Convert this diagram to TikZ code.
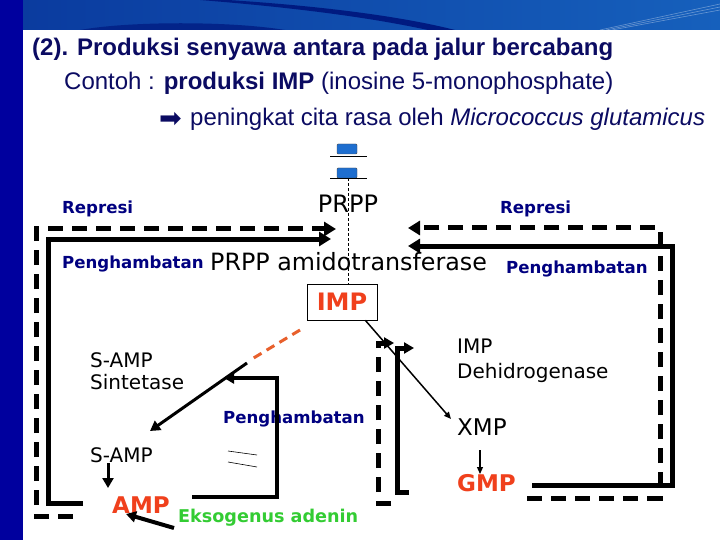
\documentclass[tikz,border=0pt]{standalone}
\usepackage{fontspec}
\setmainfont{Liberation Sans}
\newfontfamily\dv{DejaVu Sans}
\usetikzlibrary{arrows.meta}
\definecolor{bannerL}{HTML}{0A3A9E}
\definecolor{bannerR}{HTML}{1660BC}
\definecolor{swoosh}{HTML}{001A80}
\definecolor{stripcol}{HTML}{00009E}
\definecolor{titlecol}{HTML}{0B0B62}
\definecolor{navytxt}{HTML}{000080}
\definecolor{redtxt}{HTML}{F0401C}
\definecolor{greentxt}{HTML}{33CC33}
\definecolor{orangeline}{HTML}{E8602C}
\definecolor{boxblue}{HTML}{1E6ECF}
\tikzset{
  lbl/.style={inner sep=0pt, anchor=base west},
  fz/.style={font=\dv\fontsize{#1}{#1}\selectfont},
  fzb/.style={font=\dv\bfseries\fontsize{#1}{#1}\selectfont},
  thickline/.style={line width=5pt, line join=miter},
  dashloop/.style={thickline, dash pattern=on 15pt off 9pt},
  bigtip/.style={-{Triangle[length=12pt,width=14pt]}},
  midtip/.style={-{Triangle[length=10pt,width=11pt]}},
  thintip/.style={-{Triangle[length=7pt,width=6pt]}},
  bluebox/.style={draw=black!70, line width=0.4pt, fill=boxblue, minimum width=20pt, minimum height=10pt, inner sep=0pt, rounded corners=1pt},
}
\begin{document}
\begin{tikzpicture}[x=1pt,y=-1pt]
\useasboundingbox (0,0) rectangle (720,540);
% background
\fill[white] (0,0) rectangle (720,540);
\shade[left color=bannerL, right color=bannerR] (0,0) rectangle (720,30);
\fill[swoosh!70!bannerL] (80,30) .. controls (130,21) and (230,21) .. (285,30) -- cycle;
\fill[swoosh] (228,0) .. controls (320,6) and (400,16) .. (455,30) -- (428,30) .. controls (372,18) and (300,8) .. (200,0) -- cycle;
\foreach \d in {0,6,12}{\draw[white, opacity=0.35, line width=0.6pt] (600+\d,30) -- (720,4+\d/2);}
\fill[stripcol] (0,0) rectangle (23,540);

% heading text
\node[lbl, font=\bfseries\fontsize{24}{28}\selectfont, text=titlecol] (title) at (32,56) {(2). Produksi senyawa antara pada jalur bercabang};
\node[lbl, font=\fontsize{24}{28}\selectfont, text=titlecol] (sub) at (64,90) {Contoh : \textbf{produksi IMP} (inosine 5-monophosphate)};
\node[lbl, font=\dv\fontsize{27}{30}\selectfont, text=titlecol] (arr) at (159,128) {➡};
\node[lbl, font=\fontsize{24}{28}\selectfont, text=titlecol] (sub2) at (190,126) {peningkat cita rasa oleh \textit{Micrococcus glutamicus}};

% top of pathway
\node[bluebox] (b1) at (347,149) {};
\node[bluebox] (b2) at (347,173) {};
\draw[line width=0.5pt] ([xshift=-17pt,yshift=-2pt]b1.south) -- ([xshift=20pt,yshift=-2pt]b1.south);
\draw[line width=0.5pt] ([xshift=-17pt]b2.south) -- ([xshift=20pt]b2.south);
\node[lbl, anchor=base, fz=24] (prpp) at (348,212) {PRPP};
\node[draw, line width=0.6pt, minimum width=70pt, minimum height=36pt, inner sep=0pt, fzb=24, text=redtxt] (imp) at (342,302) {IMP};
\draw[line width=0.6pt, dash pattern=on 3pt off 2pt] ([xshift=1pt]b2.south) -- ([xshift=1pt]b2.south |- imp.north);

% labels
\node[lbl, fzb=16.6, text=navytxt] (repL) at (62,214) {Represi};
\node[lbl, fzb=16.6, text=navytxt] (repR) at (500,214) {Represi};
\node[lbl, fzb=16.6, text=navytxt] (pengL) at (62,268) {Penghambatan};
\node[lbl, fz=23.8] (amido) at (210,270) {PRPP amidotransferase};
\node[lbl, fzb=16.6, text=navytxt] (pengR) at (506,273) {Penghambatan};
\node[lbl, fzb=16.6, text=navytxt] (pengM) at (223,423) {Penghambatan};
\node[lbl, fz=20] (samp1) at (90,367) {S-AMP};
\node[lbl, fz=20] (sint) at (90,389) {Sintetase};
\node[lbl, fz=20] (samp2) at (90,462) {S-AMP};
\node[lbl, fzb=23, text=redtxt] (amp) at (112,513) {AMP};
\node[lbl, fzb=17.6, text=greentxt] (eks) at (178,522) {Eksogenus adenin};
\node[lbl, fz=20] (impd1) at (457,353) {IMP};
\node[lbl, fz=20] (impd2) at (457,378) {Dehidrogenase};
\node[lbl, fz=23] (xmp) at (457,435) {XMP};
\node[lbl, fzb=23, text=redtxt] (gmp) at (457,491) {GMP};

% outer left loops (AMP -> PRPP amidotransferase)
\coordinate (ld0) at (73,516); \coordinate (ld1) at (36,516);
\coordinate (ld2) at (36,229); \coordinate (ld3) at (336,229);
\draw[dashloop, bigtip] (ld0) -- (ld1) -- (ld2) -- (ld3);
\coordinate (ls0) at (83,503); \coordinate (ls1) at (48,503);
\coordinate (ls2) at (48,239); \coordinate (ls3) at (331,239);
\draw[thickline, bigtip] (ls0) -- (ls1) -- (ls2) -- (ls3);

% outer right loops (GMP -> PRPP amidotransferase)
\coordinate (rd0) at (527,498); \coordinate (rd1) at (660,498);
\coordinate (rd2) at (660,228); \coordinate (rd3) at (408,228);
\draw[dashloop, bigtip] (rd0) -- (rd1) -- (rd2) -- (rd3);
\coordinate (rs0) at (532,485); \coordinate (rs1) at (672,485);
\coordinate (rs2) at (672,246); \coordinate (rs3) at (408,246);
\draw[thickline, bigtip] (rs0) -- (rs1) -- (rs2) -- (rs3);

% IMP -> S-AMP branch
\coordinate (od0) at (300,330); \coordinate (od1) at (252,359);
\draw[orangeline, line width=3pt, dash pattern=on 9pt off 6pt] (od0) -- (od1);
\coordinate (dg0) at (247,363); \coordinate (dg1) at (150,431);
\draw[line width=3pt, midtip] (dg0) -- (dg1);
% AMP inhibition of S-AMP sintetase
\coordinate (ai0) at (192,497); \coordinate (ai1) at (277,497);
\coordinate (ai2) at (277,378); \coordinate (ai3) at (224,378);
\draw[line width=4.5pt, line join=miter, midtip] (ai0) -- (ai1) -- (ai2) -- (ai3);
\coordinate (eq1a) at (228,451); \coordinate (eq1b) at (257,455);
\coordinate (eq2a) at (228,462); \coordinate (eq2b) at (257,467);
\draw[line width=0.6pt] (eq1a) -- (eq1b);
\draw[line width=0.6pt] (eq2a) -- (eq2b);
\coordinate (sa0) at (108,463); \coordinate (sa1) at (108,488);
\draw[line width=3pt, midtip] (sa0) -- (sa1);
\coordinate (ex0) at (174,528); \coordinate (ex1) at (126,514);
\draw[line width=4pt, midtip] (ex0) -- (ex1);

% IMP -> XMP -> GMP branch
\coordinate (ix1) at (451,419);
\draw[line width=1.5pt, thintip] ([xshift=-12pt]imp.south east) -- (ix1);
\coordinate (xg0) at (480,450); \coordinate (xg1) at (480,474);
\draw[line width=1.2pt, thintip] (xg0) -- (xg1);
% GMP inhibition / repression of IMP dehidrogenase
\coordinate (gs0) at (409,492); \coordinate (gs1) at (397,492);
\coordinate (gs2) at (397,348); \coordinate (gs3) at (414,348);
\draw[thickline, midtip] (gs0) -- (gs1) -- (gs2) -- (gs3);
\coordinate (gd0) at (391,503); \coordinate (gd1) at (378,503);
\coordinate (gd2) at (378,343); \coordinate (gd3) at (394,343);
\draw[dashloop, midtip] (gd0) -- (gd1) -- (gd2) -- (gd3);
\end{tikzpicture}
\end{document}
